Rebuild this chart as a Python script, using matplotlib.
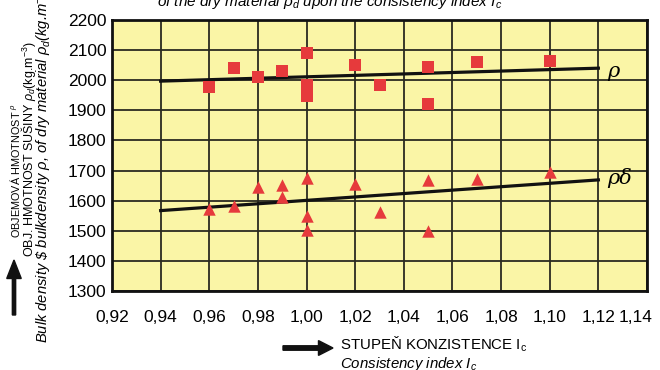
import numpy as np
import matplotlib.pyplot as plt
import matplotlib.transforms as mtransforms
from matplotlib.patches import FancyArrow

plt.rcParams['font.family'] = ['Liberation Sans', 'DejaVu Sans']
plt.rcParams['mathtext.fontset'] = 'custom'
plt.rcParams['mathtext.rm'] = 'Liberation Sans'
plt.rcParams['mathtext.it'] = 'Liberation Sans:italic'

# bulk density rho (squares)
ic_rho = [0.96, 0.97, 0.98, 0.99, 1.00, 1.00, 1.00, 1.02, 1.03, 1.05, 1.05, 1.07, 1.10]
rho = [1976, 2039, 2012, 2031, 2092, 1985, 1948, 2050, 1983, 2045, 1922, 2061, 2064]

# dry density rho_d (triangles)
ic_rhod = [0.96, 0.97, 0.98, 0.99, 0.99, 1.00, 1.00, 1.00, 1.02, 1.03, 1.05, 1.05, 1.07, 1.10]
rhod = [1572, 1583, 1644, 1653, 1611, 1676, 1550, 1503, 1656, 1561, 1669, 1500, 1672, 1694]

# regression lines (end points)
fit_x = [0.94, 1.12]
fit_rho = [1997, 2040]
fit_rhod = [1567, 1669]

xticks = np.arange(0.92, 1.141, 0.02)
yticks = np.arange(1300, 2201, 100)

fig = plt.figure(figsize=(6.6, 3.7), dpi=100)
ax = fig.add_axes([112/660, 1-291/370, 535/660, 271/370])
ax.set_facecolor('#faf5a6')

ax.set_xlim(0.92, 1.14)
ax.set_ylim(1300, 2200)
ax.set_xticks(xticks)
ax.set_yticks(yticks)
ax.set_xticklabels([('%.2f' % v).replace('.', ',') for v in xticks])
ax.set_yticklabels(['%d' % v for v in yticks])
ax.tick_params(length=0, labelsize=12.5, pad=4)
ax.tick_params(axis='x', pad=14)
# last x label sits a bit left of its grid line in the original
lab = ax.get_xticklabels()[-1]
lab.set_transform(lab.get_transform() + mtransforms.ScaledTranslation(-0.11, 0, fig.dpi_scale_trans))
ax.grid(True, color='#2a2a20', linewidth=1.3)
ax.set_axisbelow(True)
for s in ax.spines.values():
    s.set_linewidth(2)
    s.set_color('#111111')

ax.plot(fit_x, fit_rho, color='#111111', linewidth=2.3, zorder=3)
ax.plot(fit_x, fit_rhod, color='#111111', linewidth=2.3, zorder=3)
ax.scatter(ic_rho, rho, marker='s', s=70, color='#e63a3c', zorder=4, linewidths=0)
ax.scatter(ic_rhod, rhod, marker='^', s=80, color='#e63a3c', zorder=4, linewidths=0)

ax.text(1.1235, 2030, 'ρ', fontsize=15, family='DejaVu Serif', style='italic', va='center', ha='left')
ax.text(1.1235, 1675, 'ρδ', fontsize=15, family='DejaVu Serif', style='italic', va='center', ha='left')

# cut-off title at the top
fig.text(330/660, 1-6/370, r'of the dry material $\rho_d$ upon the consistency index $I_c$',
         fontsize=11, style='italic', ha='center', va='baseline')

# y axis labels
fig.text(15/660, 1-171/370, r'OBJEMOVÁ HMOTNOST $^{\rho}$', rotation=90, fontsize=7.8,
         ha='center', va='center')
fig.text(28.5/660, 1-149/370, r'OBJ. HMOTNOST SUŠINY $\rho_d$(kg.m$^{-3}$)', rotation=90,
         fontsize=9, ha='center', va='center')
fig.text(43/660, 1-343/370, r'Bulk density \$ bulkdensity $\rho$, of dry material $\rho_d$(kg.m$^{-3}$)',
         rotation=90, fontsize=10.6, style='italic', ha='center', va='bottom')
fig.patches.append(FancyArrow(
    14/660, 1-315/370, 0, 55/370, width=0.005, head_width=0.022, head_length=0.05,
    length_includes_head=True, transform=fig.transFigure, color='#111111'))

# x axis labels
fig.patches.append(FancyArrow(
    283/660, 1-348/370, 50/660, 0, width=0.012, head_width=0.04, head_length=0.022,
    length_includes_head=True, transform=fig.transFigure, color='#111111'))
fig.text(340/660, 1-350/370, r'STUPEŇ KONZISTENCE I$_\mathrm{c}$', fontsize=10.8, ha='left', va='baseline')
fig.text(340/660, 1-368/370, r'Consistency index $I_c$', fontsize=10.8, style='italic',
         ha='left', va='baseline')

fig.savefig('out.png', dpi=100)
